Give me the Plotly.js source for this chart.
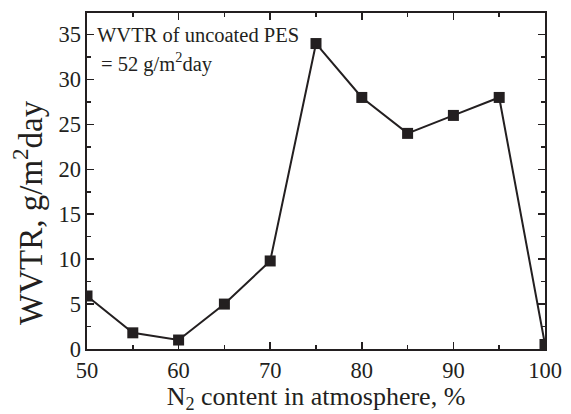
<!DOCTYPE html>
<html><head><meta charset="utf-8">
<script src="https://cdn.plot.ly/plotly-3.0.1.min.js"></script>
<style>body{margin:0;background:#fff}#c{width:571px;height:414px}</style>
</head><body><div id="c"></div>
<script>
const n2Content = [50, 55, 60, 65, 70, 75, 80, 85, 90, 95, 100];
const wvtr = [5.9, 1.8, 1.0, 5.0, 9.8, 34.0, 28.0, 24.0, 26.0, 28.0, 0.5];
const xTicks = [50, 60, 70, 80, 90, 100];
const yTicks = [0, 5, 10, 15, 20, 25, 30, 35];
const xTitle = 'N<sub>2</sub> content in atmosphere, %';
const yTitle = 'WVTR, g/m<sup>2</sup>day';
const noteLines = ['WVTR of uncoated PES', '= 52 g/m<sup>2</sup>day'];

const font = {family: '"Liberation Serif", "Times New Roman", serif', color: '#231f20'};
const axisCommon = {
  showgrid: false, zeroline: false, showline: true, linecolor: '#231f20', linewidth: 1.6,
  mirror: 'ticks', ticks: 'inside', ticklen: 7, tickwidth: 1.5, tickcolor: '#231f20',
  tickfont: Object.assign({size: 22.5}, font)
};
Plotly.newPlot('c', [{
  x: n2Content, y: wvtr, type: 'scatter', mode: 'lines+markers', cliponaxis: true,
  line: {color: '#231f20', width: 2},
  marker: {symbol: 'square', size: 11, color: '#231f20'}
}], {
  width: 571, height: 414,
  margin: {l: 87, r: 26, t: 13, b: 65},
  paper_bgcolor: '#fff', plot_bgcolor: '#fff',
  showlegend: false,
  xaxis: Object.assign({}, axisCommon, {
    range: [50, 100], tickvals: xTicks,
    minor: {dtick: 5, tick0: 50, ticks: 'inside', ticklen: 4, tickwidth: 1.5, tickcolor: '#231f20'},
    title: {text: xTitle, font: Object.assign({size: 26}, font), standoff: 2}
  }),
  yaxis: Object.assign({}, axisCommon, {
    range: [0, 37.4], tickvals: yTicks,
    minor: {dtick: 2.5, tick0: 0, ticks: 'inside', ticklen: 4, tickwidth: 1.5, tickcolor: '#231f20'},
    title: {text: ''}
  }),
  annotations: [
    {xref: 'paper', yref: 'paper', x: 0, y: 0.405, xanchor: 'center', yanchor: 'middle', xshift: -59,
     textangle: -90, showarrow: false, text: yTitle, font: Object.assign({size: 33}, font)},
    {xref: 'paper', yref: 'paper', x: 0.018, y: 0.935, xanchor: 'left', yanchor: 'middle', showarrow: false,
     text: noteLines[0], font: Object.assign({size: 20.5}, font)},
    {xref: 'paper', yref: 'paper', x: 0.026, y: 0.852, xanchor: 'left', yanchor: 'middle', showarrow: false,
     text: noteLines[1], font: Object.assign({size: 20.5}, font)}
  ]
}, {displayModeBar: false, staticPlot: true});
</script></body></html>
